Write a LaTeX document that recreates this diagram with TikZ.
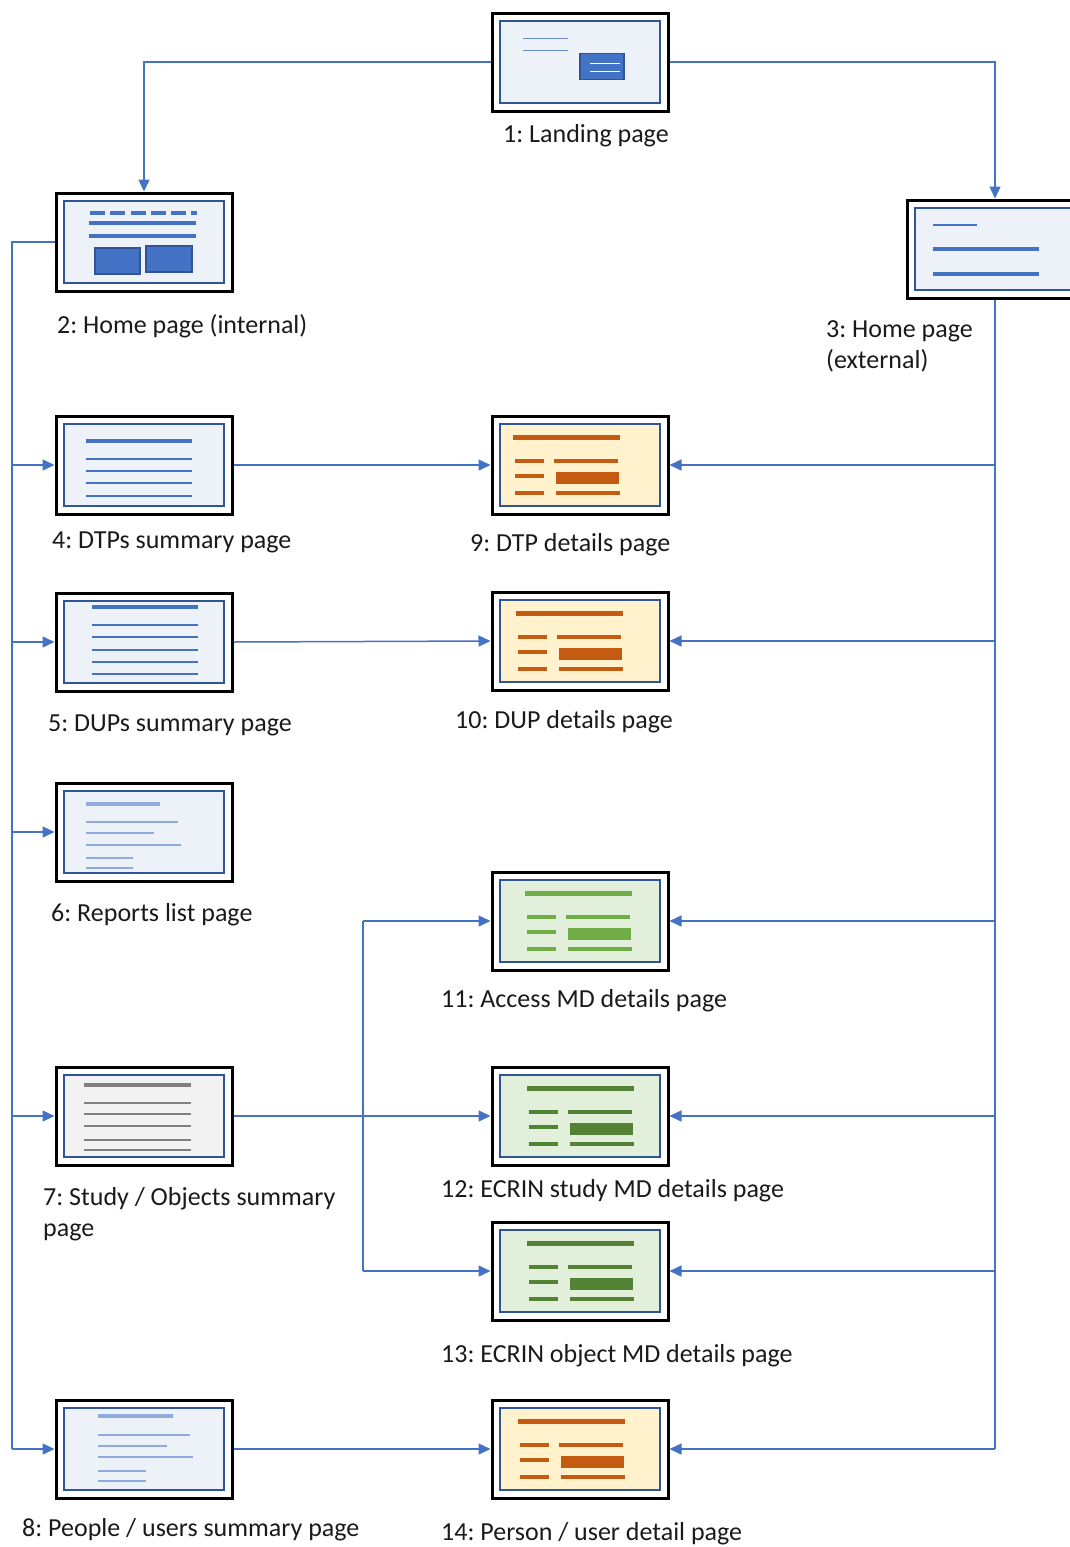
\documentclass[tikz,border=0pt]{standalone}
\usepackage{fontspec}
\setmainfont{Carlito}
\usetikzlibrary{arrows.meta}

\definecolor{link}{HTML}{4472C4}
\definecolor{frameblue}{HTML}{2F5597}
\definecolor{paleblue}{HTML}{EDF2F9}
\definecolor{lightblue}{HTML}{8FAADC}
\definecolor{paleorange}{HTML}{FFF2CC}
\definecolor{orange}{HTML}{C55A11}
\definecolor{palegreen}{HTML}{E2EFDA}
\definecolor{green}{HTML}{70AD47}
\definecolor{darkgreen}{HTML}{548235}
\definecolor{palegray}{HTML}{F2F2F2}
\definecolor{midgray}{HTML}{808080}
\definecolor{labeltext}{HTML}{1A1A1A}

\tikzset{
  pagebox/.style={draw=black, line width=3pt, fill=white,
    minimum width=176pt, minimum height=98pt, inner sep=0pt},
  connector/.style={draw=link, line width=1.5pt},
  arrowed/.style={connector, -{Triangle[length=12pt,width=11pt]}},
  caption/.style={anchor=base west, inner sep=0pt, text=labeltext,
    font=\fontsize{26}{31}\selectfont\frenchspacing, align=left},
  thinline/.style={line width=2pt},
  thickline/.style={line width=4.5pt},
}

% outer frame plus inner page rectangle
\newcommand\pagenode[4]{%
  \node[pagebox] (#1) at (#2,#3) {};
  \draw[frameblue, line width=2.5pt, fill=#4]
    ([shift={(-80,-41)}]#1.center) rectangle ([shift={(80,41)}]#1.center);
}

% detail page icon: heading, three rows with short and long bars
\newcommand\detailicon[3]{%
  \begin{scope}[shift={(#1.center)}]
  \begin{scope}[shift={(#2,0)}]
    \draw[#3, line width=5pt] (0,-28) -- (107,-28);
    \draw[#3, line width=4pt] (2,-4) -- (31,-4) (2,11) -- (31,11) (2,28) -- (31,28);
    \draw[#3, line width=4pt] (41,-4) -- (105,-4) (43,28) -- (107,28);
    \fill[#3] (43,7) rectangle (106,19);
  \end{scope}
  \end{scope}
}

\begin{document}
\begin{tikzpicture}[x=1pt, y=-1pt]
\useasboundingbox (0,0) rectangle (1070,1547);
\clip (0,0) rectangle (1070,1547);

% ---------- page boxes ----------
\pagenode{p1}{580}{62}{paleblue}
\pagenode{p2}{144}{242}{paleblue}
\pagenode{p3}{995}{249}{paleblue}
\pagenode{p4}{144}{465}{paleblue}
\pagenode{p9}{580}{465}{paleorange}
\pagenode{p5}{144}{642}{paleblue}
\pagenode{p10}{580}{641}{paleorange}
\pagenode{p6}{144}{832}{paleblue}
\pagenode{p11}{580}{921}{palegreen}
\pagenode{p7}{144}{1116}{palegray}
\pagenode{p12}{580}{1116}{palegreen}
\pagenode{p13}{580}{1271}{palegreen}
\pagenode{p8}{144}{1449}{paleblue}
\pagenode{p14}{580}{1449}{paleorange}

% ---------- icons ----------
% 1: landing page
\begin{scope}[shift={(p1.center)}]
  \draw[link!80, line width=1.5pt] (-57,-23.5) -- (-12,-23.5) (-57,-11.5) -- (-12,-11.5);
  \draw[frameblue, line width=1.5pt, fill=link] (0,-8.5) rectangle (44,17.5);
  \draw[white, line width=1.5pt] (10,1.5) -- (40,1.5) (10,9.5) -- (40,9.5);
\end{scope}
% 2: internal home page
\begin{scope}[shift={(p2.center)}]
  \draw[link, line width=4pt] (-54,-29) -- (-39,-29) (-34,-29) -- (-19,-29)
    (-13,-29) -- (2,-29) (7,-29) -- (22,-29) (27,-29) -- (42,-29) (47,-29) -- (53,-29);
  \draw[link, line width=4pt] (-55,-19) -- (52,-19) (-55,-6) -- (52,-6);
  \draw[frameblue, line width=1.5pt, fill=link] (-49,6) rectangle (-4,32);
  \draw[frameblue, line width=1.5pt, fill=link] (2,4) rectangle (48,30);
\end{scope}
% 3: external home page
\begin{scope}[shift={(p3.center)}]
  \draw[link, line width=1.5pt] (-62,-24) -- (-18,-24);
  \draw[link, line width=4pt] (-62,0) -- (44,0) (-62,25) -- (44,25);
\end{scope}
% 4: DTPs summary
\begin{scope}[shift={(p4.center)}]
  \draw[link, thickline] (-58,-24) -- (48,-24);
  \foreach \y in {-6,6,18,31} \draw[link, thinline] (-58,\y) -- (48,\y);
\end{scope}
% 5: DUPs summary
\begin{scope}[shift={(p5.center)}]
  \draw[link, thickline] (-52,-35) -- (54,-35);
  \foreach \y in {-17,-5,8,20,32} \draw[link, thinline] (-52,\y) -- (54,\y);
\end{scope}
% 6: reports list
\begin{scope}[shift={(p6.center)}]
  \draw[lightblue, thickline] (-58,-28) -- (16,-28);
  \draw[lightblue, thinline] (-58,-10) -- (34,-10) (-58,1) -- (10,1) (-58,13) -- (37,13)
    (-58,26) -- (-11,26) (-58,36) -- (-11,36);
\end{scope}
% 7: study / objects summary
\begin{scope}[shift={(p7.center)}]
  \draw[midgray, thickline] (-60,-31) -- (47,-31);
  \foreach \y in {-13,-2,10,24,34} \draw[midgray, thinline] (-60,\y) -- (47,\y);
\end{scope}
% 8: people / users summary
\begin{scope}[shift={(p8.center)}]
  \draw[lightblue, thickline] (-46,-33) -- (29,-33);
  \draw[lightblue, thinline] (-46,-14) -- (46,-14) (-46,-3) -- (23,-3) (-46,8) -- (49,8)
    (-46,22) -- (2,22) (-46,32) -- (2,32);
\end{scope}
% detail pages
\detailicon{p9}{-67}{orange}
\detailicon{p10}{-64}{orange}
\detailicon{p14}{-62}{orange}
\detailicon{p11}{-55}{green}
\detailicon{p12}{-53}{darkgreen}
\detailicon{p13}{-53}{darkgreen}

% ---------- connectors ----------
\coordinate (busL) at (12,0);
\coordinate (busM) at (363,0);

\draw[arrowed] (p1.west) -| (p2.north);
\draw[arrowed] (p1.east) -| (p3.north);

% internal home page bus
\draw[connector] (p2.west) -| (p8.west -| busL);
\foreach \n in {p4,p5,p6,p7,p8}
  \draw[arrowed] (\n.west -| busL) -- (\n.west);

% external home page bus
\draw[connector] (p3.south) -- (p3.south |- p14.east);
\foreach \n in {p9,p10,p11,p12,p13,p14}
  \draw[arrowed] (\n.east -| p3.south) -- (\n.east);

% summary pages to detail pages
\draw[arrowed] (p4.east) -- (p9.west);
\draw[arrowed] (p5.east) -- (p10.west);
\draw[arrowed] (p8.east) -- (p14.west);
\draw[arrowed] (p7.east) -- (p12.west);
\draw[connector] (p11.west -| busM) -- (p13.west -| busM);
\draw[arrowed] (p11.west -| busM) -- (p11.west);
\draw[arrowed] (p13.west -| busM) -- (p13.west);

% ---------- captions ----------
\node[caption] (l1) at (503,142) {1: Landing page};
\node[caption] (l2) at (57,333) {2: Home page (internal)};
\node[caption] (l3) at (826,368) {3: Home page\\(external)};
\node[caption] (l4) at (52,548) {4: DTPs summary page};
\node[caption] (l9) at (470,551) {9: DTP details page};
\node[caption] (l5) at (48,731) {5: DUPs summary page};
\node[caption] (l10) at (455,728) {10: DUP details page};
\node[caption] (l6) at (51,921) {6: Reports list page};
\node[caption] (l11) at (441,1007) {11: Access MD details page};
\node[caption] (l7) at (43,1236) {7: Study / Objects summary\\page};
\node[caption] (l12) at (441,1197) {12: ECRIN study MD details page};
\node[caption] (l13) at (441,1362) {13: ECRIN object MD details page};
\node[caption] (l8) at (22,1536) {8: People / users summary page};
\node[caption] (l14) at (441,1540) {14: Person / user detail page};
\end{tikzpicture}
\end{document}
